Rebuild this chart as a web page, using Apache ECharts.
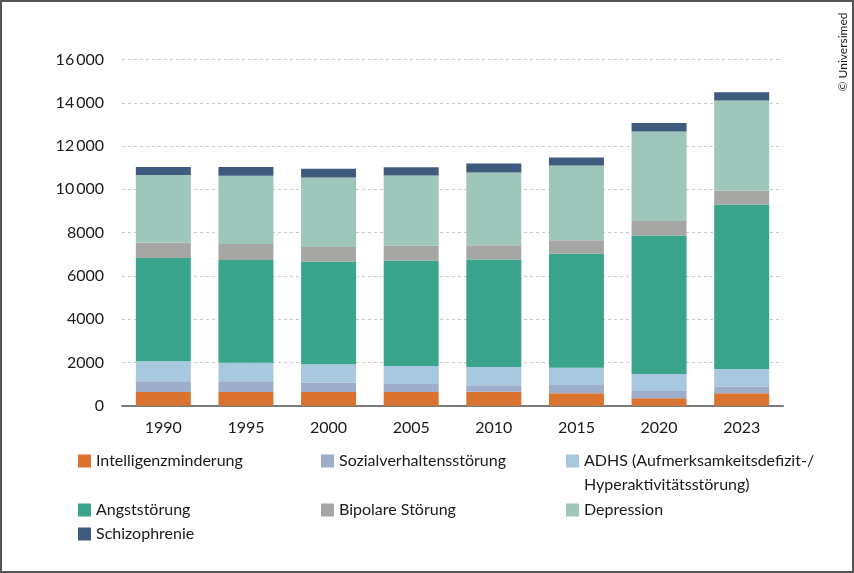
<!DOCTYPE html>
<html>
<head>
<meta charset="utf-8">
<script src="https://cdn.jsdelivr.net/npm/echarts@6/dist/echarts.min.js"></script>
<style>
    html, body { margin: 0; padding: 0; background: #fff; }
    #chart { width: 854px; height: 573px; }
</style>
</head>
<body>
<div id="chart"></div>
<script>
var years = ['1990', '1995', '2000', '2005', '2010', '2015', '2020', '2023'];
var names = [
    'Intelligenzminderung',
    'Sozialverhaltensstörung',
    'ADHS (Aufmerksamkeitsdefizit-/Hyperaktivitätsstörung)',
    'Angststörung',
    'Bipolare Störung',
    'Depression',
    'Schizophrenie'
];
var colors = ['#d9732f', '#9eadc9', '#a8c8df', '#3aa58c', '#a6a6a5', '#9ec6ba', '#3e5a7c'];

var intelligenz = [630, 630, 630, 630, 645, 570, 340, 570];
var sozial = [495, 495, 430, 370, 295, 385, 340, 305];
var adhs = [925, 865, 850, 830, 845, 800, 785, 820];
var angst = [4775, 4745, 4745, 4880, 4975, 5265, 6405, 7605];
var bipolar = [710, 740, 675, 680, 660, 630, 665, 630];
var depression = [3125, 3155, 3220, 3250, 3355, 3450, 4140, 4175];
var schizo = [370, 400, 400, 385, 415, 370, 385, 385];

var values = [intelligenz, sozial, adhs, angst, bipolar, depression, schizo];

var font = 'Lato';

// legend grid: [left, icon centre y]
var legendPos = [
    [78, 461], [321, 461], [566, 461],
    [78, 510], [321, 510], [566, 510],
    [78, 534]
];

var legends = names.map(function (name, i) {
    var multi = name.indexOf('-/') > -1;
    return {
        data: [name],
        left: legendPos[i][0],
        top: legendPos[i][1] - (multi ? 36 : 12),
        itemWidth: 13,
        itemHeight: 13,
        itemGap: 0,
        padding: 0,
        icon: 'rect',
        selectedMode: false,
        formatter: function (n) {
            // blank first line keeps the icon level with the first text line
            return n.indexOf('-/') > -1 ? ' \n' + n.replace('-/', '-/\n') : n;
        },
        textStyle: {
            fontFamily: font,
            fontSize: 16,
            color: '#1a1a1a',
            lineHeight: 24
        }
    };
});

var series = names.map(function (name, i) {
    return {
        name: name,
        type: 'bar',
        stack: 'total',
        barWidth: 55,
        itemStyle: {color: colors[i]},
        emphasis: {disabled: true},
        data: values[i]
    };
});

var option = {
    animation: false,
    color: colors,
    grid: {
        left: 122,
        right: 71,
        top: 59.5,
        bottom: 167.3
    },
    legend: legends,
    xAxis: {
        type: 'category',
        data: years,
        axisLine: {lineStyle: {color: '#7a7a7a', width: 2}},
        axisTick: {show: false},
        axisLabel: {
            fontFamily: font,
            fontSize: 16,
            color: '#1a1a1a',
            margin: 14
        }
    },
    yAxis: {
        type: 'value',
        min: 0,
        max: 16000,
        interval: 2000,
        axisLine: {show: false},
        axisTick: {show: false},
        splitLine: {lineStyle: {color: '#c8c8c8', type: [3, 3], width: 1}},
        axisLabel: {
            fontFamily: font,
            fontSize: 16,
            color: '#1a1a1a',
            margin: 18,
            formatter: function (v) {
                if (v >= 10000) {
                    var s = String(v);
                    return s.slice(0, s.length - 3) + '\u2009' + s.slice(-3);
                }
                return String(v);
            }
        }
    },
    graphic: [
        {
            type: 'rect',
            silent: true,
            shape: {x: 1, y: 1, width: 852, height: 571},
            style: {fill: 'none', stroke: '#555', lineWidth: 2}
        },
        {
            type: 'text',
            silent: true,
            x: 843,
            y: 52,
            rotation: Math.PI / 2,
            style: {
                text: '\u00a9 Universimed',
                fontFamily: font,
                fontSize: 12,
                fill: '#1a1a1a',
                align: 'center',
                verticalAlign: 'middle'
            }
        }
    ],
    series: series
};

var chart = echarts.init(document.getElementById('chart'));
chart.setOption(option);
</script>
</body>
</html>
